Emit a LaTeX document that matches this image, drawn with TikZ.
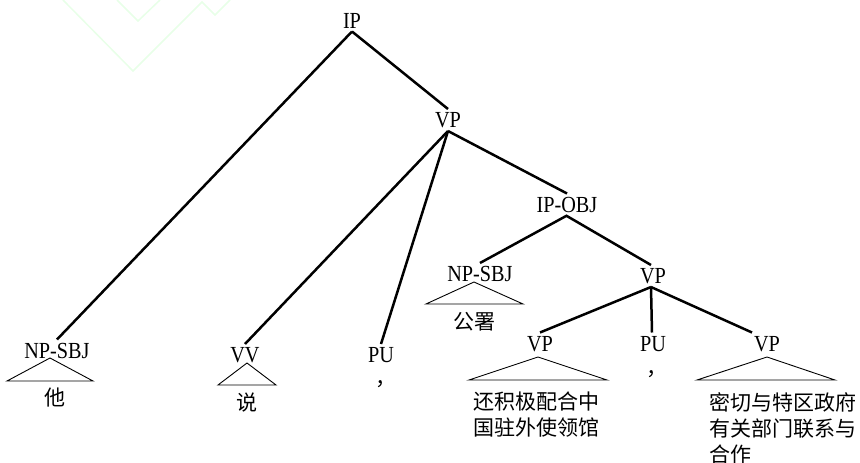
\documentclass[tikz,border=0pt]{standalone}
\usepackage{fontspec}
\setmainfont{Liberation Serif}
\newfontfamily\labfont[FakeStretch=0.88]{Liberation Serif}
\newfontfamily\cjkfont{Noto Sans CJK SC}
\definecolor{wm}{RGB}{232,255,232}
\begin{document}
\begin{tikzpicture}[x=1pt,y=-1pt,
  lab/.style={font=\labfont\fontsize{23}{25}\selectfont, inner sep=0pt, outer sep=3.5pt, text height=15pt, text depth=0pt},
  leaf/.style={font=\cjkfont\fontsize{21}{26}\selectfont, inner sep=0pt, align=left},
  edge/.style={line width=2.5pt},
  tri/.style={line width=0.9pt, line join=miter},
  wmark/.style={draw=wm, line width=1.5pt}]
\useasboundingbox (0,0) rectangle (860,463);
% faint watermark
\draw[wmark] (63,0) -- (133,71) -- (202,2) -- (215,15) -- (230,0);
\draw[wmark] (117,0) -- (138,21) -- (160,0);
% labels
\node[lab] (ip)   at (352,20.5) {IP};
\node[lab] (vpa)  at (448,120)  {VP};
\node[lab] (npa)  at (57,350.5) {NP-SBJ};
\node[lab] (vv)   at (245,355)  {VV};
\node[lab] (pua)  at (381,355)  {PU};
\node[lab] (ipo)  at (567,204.5){IP-OBJ};
\node[lab] (npb)  at (480,274)  {NP-SBJ};
\node[lab] (vpb)  at (653,276)  {VP};
\node[lab] (vpc)  at (540,343.5){VP};
\node[lab] (pub)  at (653,343.5){PU};
\node[lab] (vpd)  at (767,343.5){VP};
% leaves
\node[leaf,anchor=north] (ta) at (55,388) {他};
\node[leaf,anchor=north] (shuo) at (247,393) {说};
\node[leaf,anchor=north west] (ca) at (375,380) {，};
\node[leaf,anchor=north] (gs) at (474,312) {公署};
\node[leaf,anchor=north west] (la) at (473,392) {还积极配合中\\国驻外使领馆};
\node[leaf,anchor=north west] (cb) at (646,370) {，};
\node[leaf,anchor=north west] (lb) at (709,392) {密切与特区政府\\有关部门联系与\\合作};
% edges
\draw[edge] (ip.south) -- (npa.north);
\draw[edge] (ip.south) -- (vpa.north);
\draw[edge] (vpa.south) -- (vv.north);
\draw[edge] (vpa.south) -- (pua.north);
\draw[edge] (vpa.south) -- (ipo.north);
\draw[edge] (ipo.south) -- (npb.north);
\draw[edge] ([xshift=-1pt]ipo.south) -- ([xshift=-2pt]vpb.north);
\draw[edge] ([xshift=-2pt]vpb.south) -- (vpc.north);
\draw[edge] ([xshift=-2pt]vpb.south) -- ([xshift=-1pt]pub.north);
\draw[edge] ([xshift=-2pt]vpb.south) -- ([xshift=-15pt]vpd.north);
% triangles
\draw[tri] (50,358) -- (7,381) -- (93,381) -- cycle;
\draw[tri] (247,363) -- (218,385) -- (276,385) -- cycle;
\draw[tri] (474,282) -- (426,304) -- (523,304) -- cycle;
\draw[tri] (538,357) -- (469,380) -- (607,380) -- cycle;
\draw[tri] (767,357) -- (697,380) -- (835,380) -- cycle;
\end{tikzpicture}
\end{document}
